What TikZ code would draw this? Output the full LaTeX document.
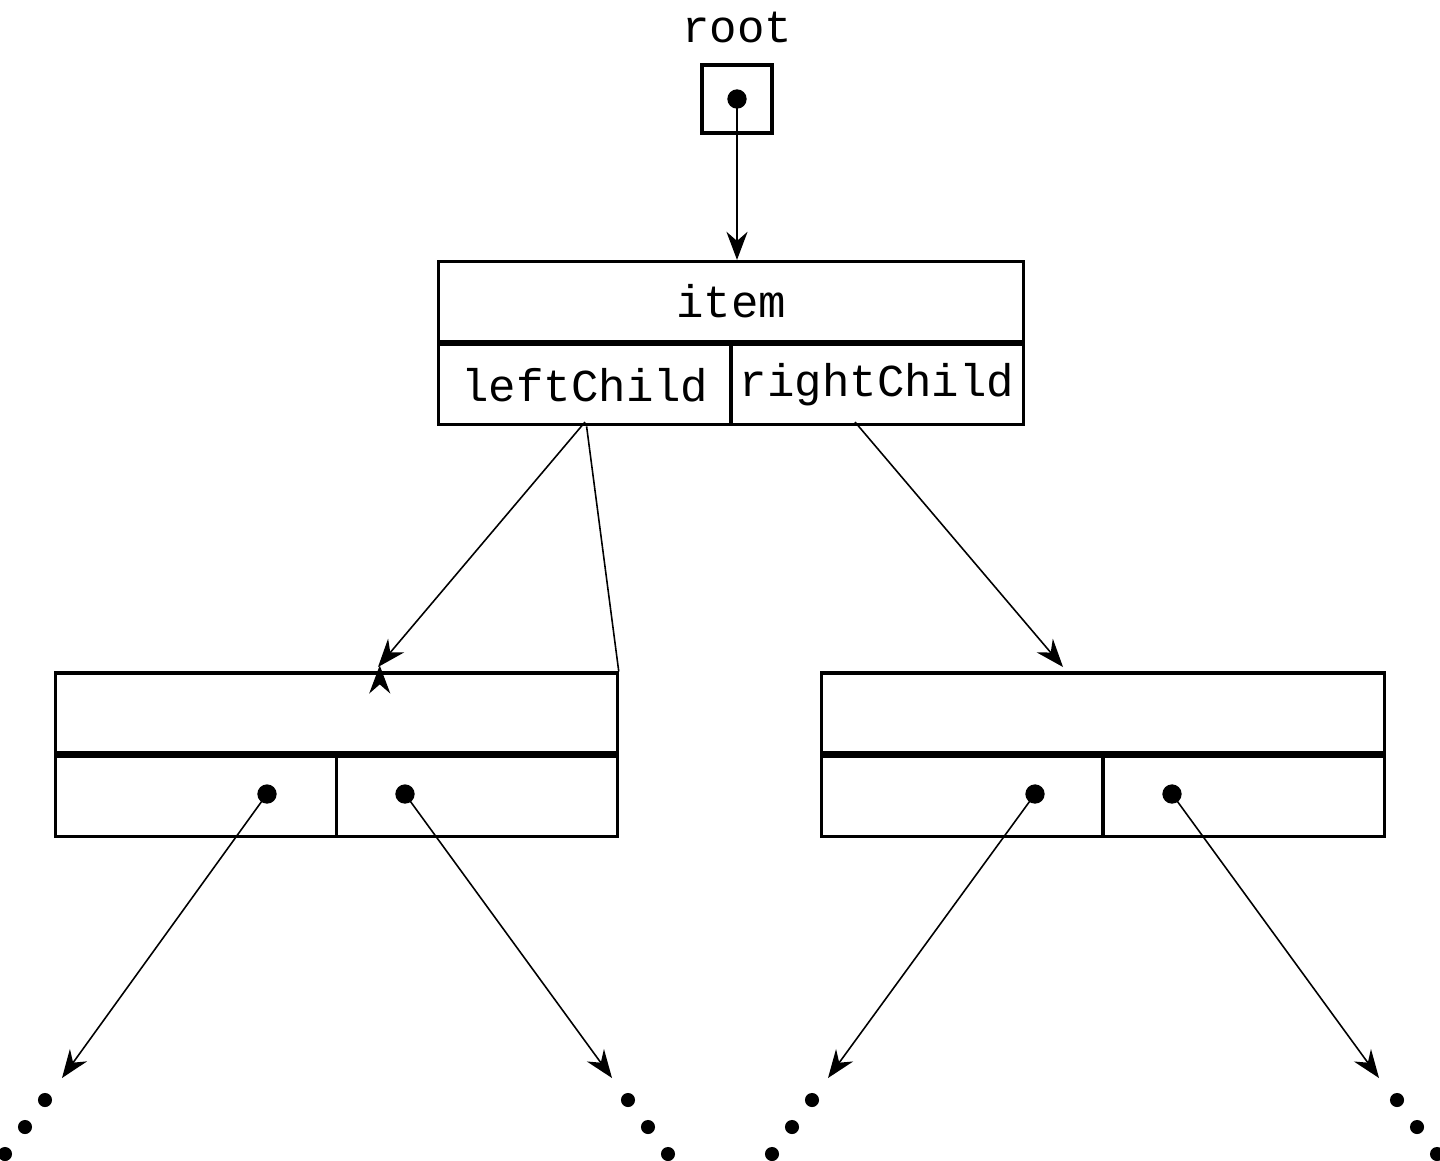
\documentclass[tikz,border=0pt]{standalone}
\usepackage{fontspec}
\setmonofont{Liberation Mono}
\usetikzlibrary{arrows.meta,calc}
\tikzset{
  cell/.style={draw, line width=0.9pt, minimum height=0.8cm, inner sep=0pt, font=\ttfamily\fontsize{13}{15}\selectfont},
  ptr/.style={-{Stealth[length=8pt,width=6pt]}, line width=0.45pt},
  dot/.style={circle, fill, inner sep=0pt, minimum size=5.5pt},
  small dot/.style={circle, fill, inner sep=0pt, minimum size=4pt}
}
\begin{document}
\begin{tikzpicture}[x=0.01cm,y=-0.01cm]
            \useasboundingbox (0,0) rectangle (1440,1160);
            % root pointer
            \node[font=\ttfamily\fontsize{13}{15}\selectfont] (rootlabel) at (737,27) {root};
            \node[cell, minimum width=0.7cm, minimum height=0.68cm] (root) at (737,99) {};
            \node[dot] (rootdot) at (737,99) {};
            % top node
            \node[cell, minimum width=5.84cm] (item) at (731,301.5) {item};
            \node[cell, minimum width=2.92cm, anchor=north west] (left) at (item.south west) {leftChild};
            \node[cell, minimum width=2.92cm, anchor=north east] (right) at (item.south east) {rightChild};
            % left child
            \node[cell, minimum width=5.61cm] (Litem) at (336.5,713) {};
            \node[cell, minimum width=2.805cm, anchor=north west] (Lleft) at (Litem.south west) {};
            \node[cell, minimum width=2.805cm, anchor=north east] (Lright) at (Litem.south east) {};
            \node[dot] (Lldot) at (267,794) {};
            \node[dot] (Lrdot) at (405,794) {};
            % right child
            \node[cell, minimum width=5.62cm] (Ritem) at (1103,713) {};
            \node[cell, minimum width=2.81cm, anchor=north west] (Rleft) at (Ritem.south west) {};
            \node[cell, minimum width=2.81cm, anchor=north east] (Rright) at (Ritem.south east) {};
            \node[dot] (Rldot) at (1035,794) {};
            \node[dot] (Rrdot) at (1172,794) {};
            % loose ends
            \coordinate (A) at (62,1078);
            \coordinate (B) at (612,1078);
            \coordinate (C) at (828,1078);
            \coordinate (D) at (1379,1078);
            % pointers
            \draw[ptr] (rootdot.center) -- (item.north -| rootdot);
            \draw[ptr] (left.south east) ++(-146,0) coordinate (ls) (ls) -- (Litem.north east) ++(-239,-6);
            \draw[ptr] (585,422) -- (378,667);
            \draw[ptr] (855,422) -- (1063,667);
            \draw[ptr] (Lldot.center) -- (A);
            \draw[ptr] (Lrdot.center) -- (B);
            \draw[ptr] (Rldot.center) -- (C);
            \draw[ptr] (Rrdot.center) -- (D);
            % ellipses
            \foreach \x/\d in {45/-1, 628/1, 812/-1, 1397/1}
              \foreach \i in {0,1,2}
                \node[small dot] at ({\x+\d*\i*20},{1100+\i*27}) {};
        \end{tikzpicture}
\end{document}
